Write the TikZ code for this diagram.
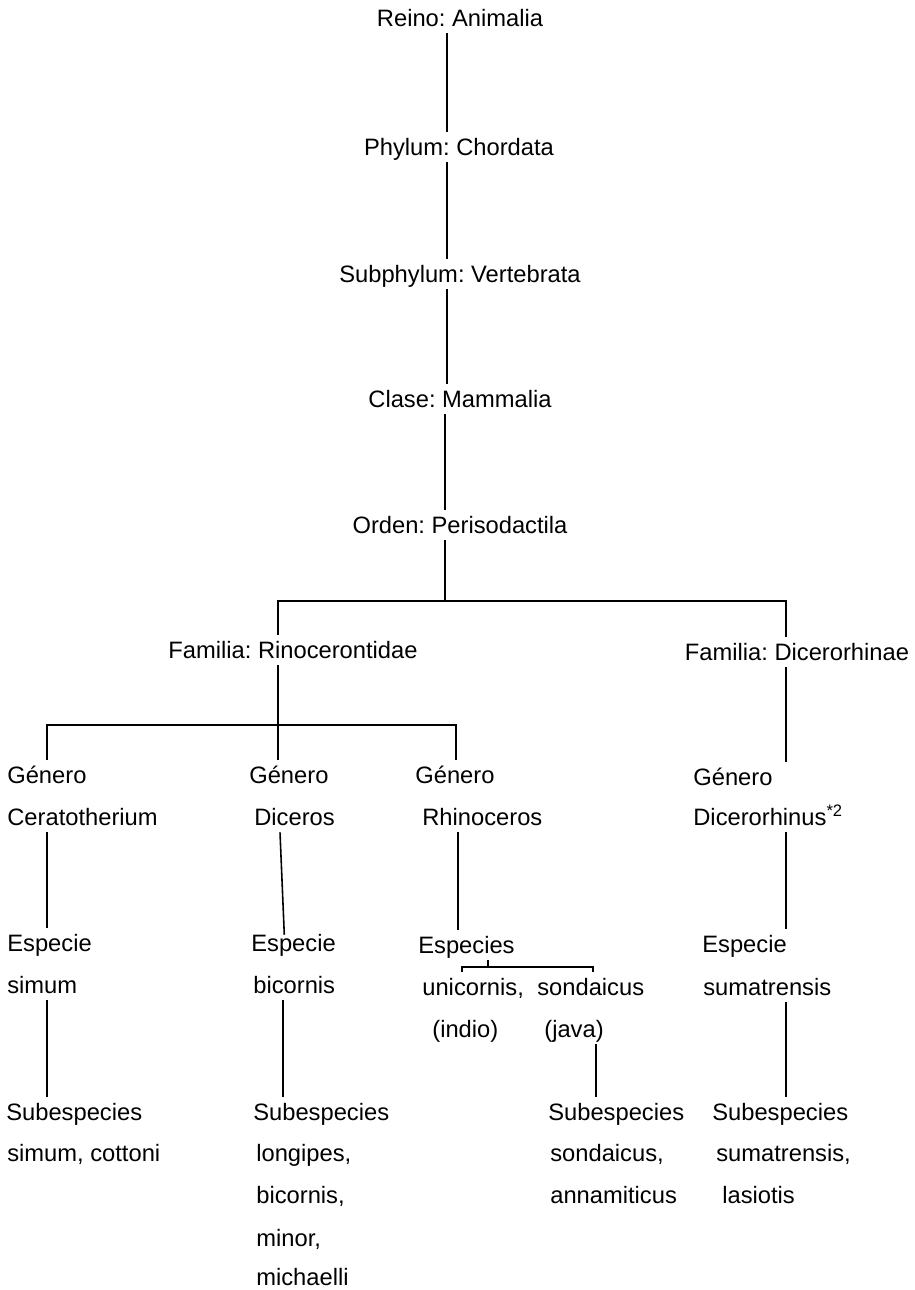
\documentclass[tikz,border=0pt]{standalone}
\usepackage{fontspec}
\setmainfont{Liberation Sans}
\frenchspacing
\begin{document}
\begin{tikzpicture}[x=0.02cm,y=-0.02cm,
  every node/.style={font=\fontsize{13.5}{16}\selectfont,inner sep=0pt,text height=13.4pt,text depth=3.6pt},
  lbl/.style={anchor=west},
  link/.style={line width=0.9pt}]
  \useasboundingbox (0,0) rectangle (915,1290);
  % main chain
  \node (reino) at (460,18) {Reino: Animalia};
  \node (phylum) at (459,147) {Phylum: Chordata};
  \node (subphylum) at (460,274) {Subphylum: Vertebrata};
  \node (clase) at (460,399) {Clase: Mammalia};
  \node (orden) at (460,525) {Orden: Perisodactila};
  \node (rino) at (293,650) {Familia: Rinocerontidae};
  \node (dicer) at (797,652) {Familia: Dicerorhinae};
  % generos
  \node[lbl] (cerG) at (7,775) {Género};
  \node[lbl] (cerN) at (7,817) {Ceratotherium};
  \node[lbl] (dicG) at (249,775) {Género};
  \node[lbl] (dicN) at (254,817) {Diceros};
  \node[lbl] (rhiG) at (415,775) {Género};
  \node[lbl] (rhiN) at (422,817) {Rhinoceros};
  \node[lbl] (dcrG) at (693,777) {Género};
  \node[lbl] (dcrN) at (693,817) {Dicerorhinus\textsuperscript{*2}};
  % especies
  \node[lbl] (cerE) at (7,943) {Especie};
  \node[lbl] (cerS) at (7,985) {simum};
  \node[lbl] (dicE) at (251,943) {Especie};
  \node[lbl] (dicS) at (253,985) {bicornis};
  \node[lbl] (rhiE) at (418,945) {Especies};
  \node[lbl] (uni) at (422,987) {unicornis,};
  \node[lbl] (son) at (537,987) {sondaicus};
  \node[lbl] (indio) at (432,1029) {(indio)};
  \node[lbl] (java) at (544,1029) {(java)};
  \node[lbl] (dcrE) at (702,944) {Especie};
  \node[lbl] (dcrS) at (703,987) {sumatrensis};
  % subespecies
  \node[lbl] (cerSub) at (6,1112) {Subespecies};
  \node[lbl] at (7,1153) {simum, cottoni};
  \node[lbl] (dicSub) at (253,1112) {Subespecies};
  \node[lbl] at (256,1153) {longipes,};
  \node[lbl] at (256,1195) {bicornis,};
  \node[lbl] at (256,1238) {minor,};
  \node[anchor=base west,text depth=0pt] at (256,1285) {michaelli};
  \node[lbl] (sonSub) at (548,1112) {Subespecies};
  \node[lbl] at (550,1153) {sondaicus,};
  \node[lbl] at (550,1195) {annamiticus};
  \node[lbl] (dcrSub) at (712,1112) {Subespecies};
  \node[lbl] at (716,1153) {sumatrensis,};
  \node[lbl] at (722,1195) {lasiotis};
  % links
  \draw[link] (447,0 |- reino.south) -- (447,0 |- phylum.north);
  \draw[link] (447,0 |- phylum.south) -- (447,0 |- subphylum.north);
  \draw[link] (447,0 |- subphylum.south) -- (447,0 |- clase.north);
  \draw[link] (445,0 |- clase.south) -- (445,0 |- orden.north);
  \coordinate (fam) at (445,601);
  \draw[link] (445,0 |- orden.south) -- (fam);
  \draw[link] (278,0 |- rino.north) |- (fam) -| (786,0 |- dicer.north);
  \coordinate (gen) at (278,725);
  \draw[link] (278,0 |- rino.south) -- (278,0 |- dicG.north);
  \draw[link] (47,0 |- cerG.north) |- (gen) -| (456,0 |- rhiG.north);
  \draw[link] (786,0 |- dicer.south) -- (786,0 |- dcrG.north);
  \draw[link] (47,0 |- cerN.south) -- (47,0 |- cerE.north);
  \draw[link,shorten >=-4pt] (280,0 |- dicN.south) -- (284,0 |- dicE.north);
  \draw[link] (458,0 |- rhiN.south) -- (458,0 |- rhiE.north);
  \draw[link] (786,0 |- dcrN.south) -- (786,0 |- dcrE.north);
  \coordinate (spl) at (488,967);
  \draw[link] (488,0 |- rhiE.south) -- (spl);
  \draw[link] (462,0 |- uni.north) |- (spl) -| (593,0 |- son.north);
  \draw[link] (47,0 |- cerS.south) -- (47,0 |- cerSub.north);
  \draw[link] (283,0 |- dicS.south) -- (283,0 |- dicSub.north);
  \draw[link] (596,0 |- java.south) -- (596,0 |- sonSub.north);
  \draw[link] (786,0 |- dcrS.south) -- (786,0 |- dcrSub.north);
\end{tikzpicture}
\end{document}
